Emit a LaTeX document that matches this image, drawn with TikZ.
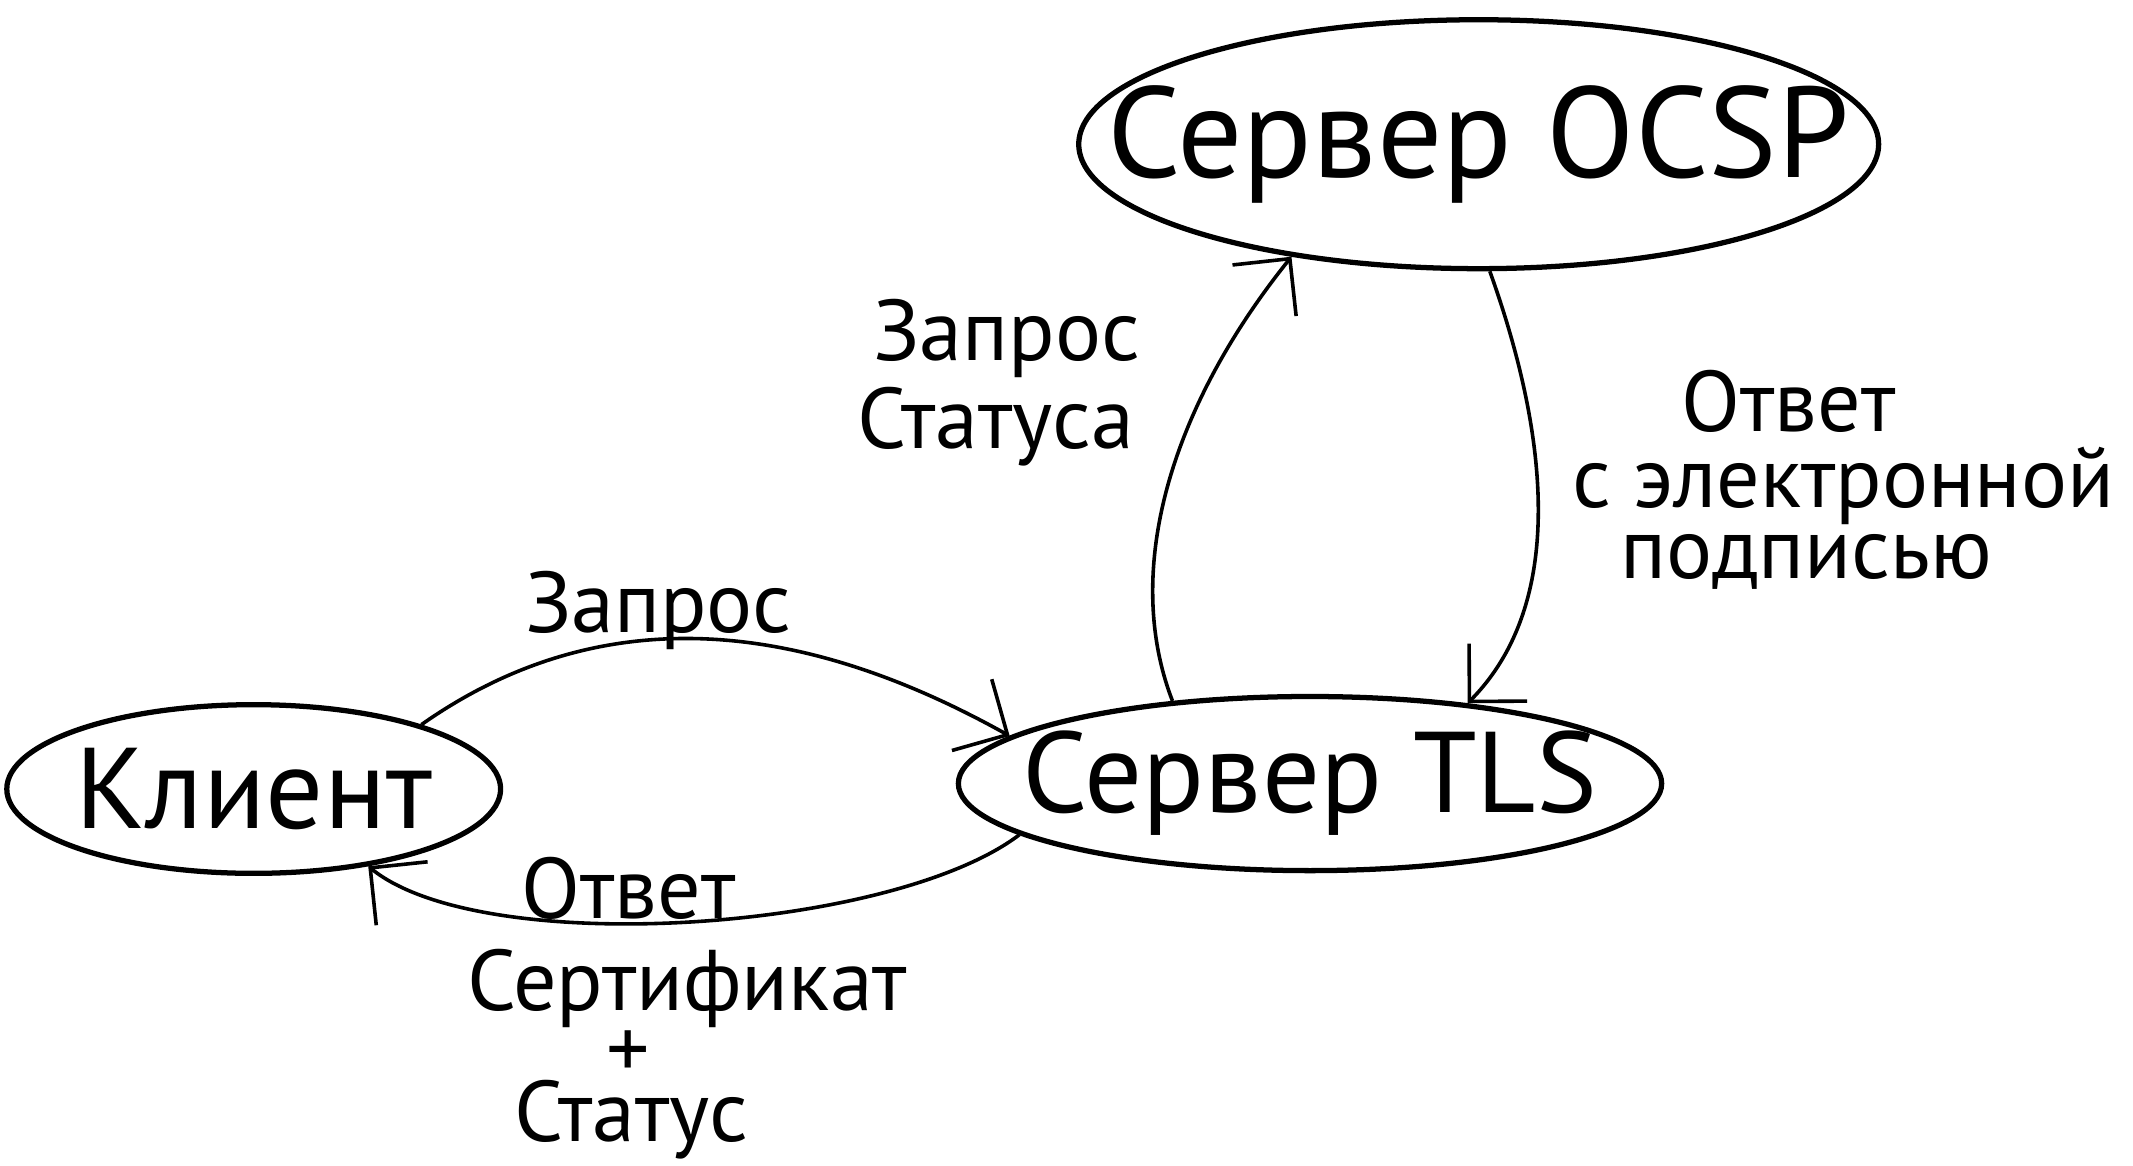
\documentclass[tikz,border=0pt]{standalone}
\usepackage{fontspec}
\setmainfont{PT Sans}
\usetikzlibrary{shapes.geometric,arrows.meta}

\begin{document}
\begin{tikzpicture}[line width=0.75pt,
  party/.style 2 args={draw, ellipse, line width=1.1pt, inner sep=0pt,
    label={[font=\fontsize{#1}{#1}\selectfont]center:#2}},
  msg/.style={font=\fontsize{18}{20}\selectfont, inner sep=0pt,
    text height=0.42cm, text depth=0.08cm},
  flow/.style={-{Straight Barb[length=3mm,width=6mm]}}]

\useasboundingbox (0,0) rectangle (15.68,-8.57);

% parties
\node[party={24}{Клиент}, minimum width=3.63cm, minimum height=1.24cm] (nCl) at (1.865,-5.80) {};
\node[party={24}{Сервер TLS}, minimum width=5.17cm, minimum height=1.28cm] (nTls) at (9.63,-5.76) {};
\node[party={27}{Сервер OCSP}, minimum width=5.88cm, minimum height=1.83cm] (nOcsp) at (10.87,-1.06) {};

% messages
\node[msg] (lReq)   at (4.84,-4.48) {Запрос};
\node[msg] (lResp)  at (4.62,-6.58) {Ответ};
\node[msg] (lCert)  at (5.05,-7.26) {Сертификат};
\node[msg] (lPlus)  at (4.62,-7.76) {+};
\node[msg] (lStat)  at (4.64,-8.22) {Статус};
\node[msg] (lAsk)   at (7.40,-2.48) {Запрос};
\node[msg] (lAsk2)  at (7.32,-3.13) {Статуса};
\node[msg] (lSig)   at (13.15,-3.00) {Ответ};
\node[msg] (lSig2)  at (13.55,-3.56) {с электронной};
\node[msg] (lSig3)  at (13.28,-4.08) {подписью};

% client <-> TLS server
\draw[flow] (nCl.21) .. controls (4.43,-4.39) and (5.90,-4.56) .. (nTls.171);
\draw[flow] (nTls.190) .. controls (6.55,-6.85) and (3.55,-7.05) .. (nCl.-34);

% TLS server <-> OCSP server
\draw[flow] (nTls.149) .. controls (8.25,-4.20) and (8.60,-3.00) .. (nOcsp.211);
\draw[flow] (nOcsp.-85) .. controls (11.35,-3.10) and (11.55,-4.40) .. (nTls.27);

\end{tikzpicture}
\end{document}
